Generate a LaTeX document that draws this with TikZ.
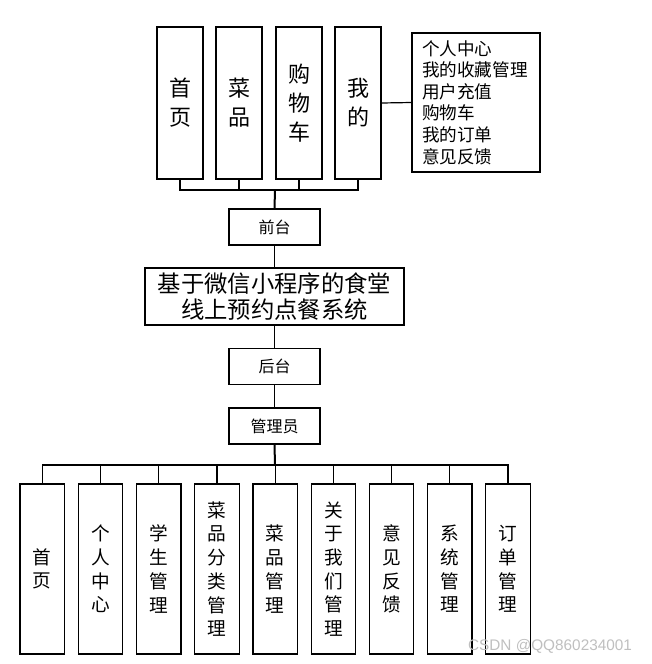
\documentclass[tikz,border=0pt]{standalone}
\usepackage{fontspec}
\setmainfont{Noto Sans CJK SC}
\newfontfamily\wmfont{Liberation Sans}
\begin{document}
\begin{tikzpicture}[x=0.75pt,y=-0.75pt,
  box/.style={draw,line width=0.9pt,inner sep=0pt,align=center},
  topbox/.style={box,minimum width=34.5pt,minimum height=114pt,font=\fontsize{16.5}{21.75}\selectfont},
  botbox/.style={box,minimum width=33.4pt,minimum height=127.5pt,font=\fontsize{14}{17.8}\selectfont},
  midbox/.style={box,minimum width=68.25pt,minimum height=27pt,font=\fontsize{12}{14}\selectfont},
  conn/.style={line width=0.9pt},
  trunk/.style={line width=1.5pt}]
\useasboundingbox (0,0) rectangle (651,664);
% top row
\node[topbox] (t1) at (180,103) {首\\页};
\node[topbox] (t2) at (239,103) {菜\\品};
\node[topbox] (t3) at (299,103) {购\\物\\车};
\node[topbox] (t4) at (358,103) {我\\的};
\node[draw,line width=0.9pt,minimum width=96pt,minimum height=104.25pt,text width=81pt,inner xsep=7.5pt,align=left,font=\fontsize{13.2}{16.2}\selectfont] (rb) at (476,102.5) {个人中心\\我的收藏管理\\用户充值\\购物车\\我的订单\\意见反馈};
% middle
\node[midbox] (qt) at (274.5,227) {前台};
\node[box,minimum width=194.25pt,minimum height=42.75pt,font=\fontsize{17.5}{20}\selectfont] (title) at (274.5,296.5) {基于微信小程序的食堂\\线上预约点餐系统};
\node[midbox] (ht) at (274.5,366.5) {后台};
\node[midbox] (gly) at (274.5,426) {管理员};
% bottom row
\node[botbox] (b1) at (42.3,569) {首\\页};
\node[botbox] (b2) at (100.5,569) {个\\人\\中\\心};
\node[botbox] (b3) at (158.8,569) {学\\生\\管\\理};
\node[botbox] (b4) at (217,569) {菜\\品\\分\\类\\管\\理};
\node[botbox] (b5) at (275.2,569) {菜\\品\\管\\理};
\node[botbox] (b6) at (333.4,569) {关\\于\\我\\们\\管\\理};
\node[botbox] (b7) at (391.6,569) {意\\见\\反\\馈};
\node[botbox] (b8) at (449.8,569) {系\\统\\管\\理};
\node[botbox] (b9) at (508,569) {订\\单\\管\\理};
% connectors
\coordinate (tb) at (275,190);
\coordinate (bb) at (275,465);
\foreach \n in {t1,t2,t3,t4} \draw[conn] (\n.south) |- (tb);
\draw[trunk] (tb) -- (qt.north);
\draw[conn] (t4.east) -- (rb.west);
\draw[conn] (qt.south) -- (title.north);
\draw[conn] (title.south) -- (ht.north);
\draw[conn] (ht.south) -- (gly.north);
\draw[trunk] (gly.south) -- (bb);
\foreach \n in {b1,b2,b3,b4,b5,b6,b7,b8,b9} \draw[conn] (\n.north) |- (bb);
\draw[trunk] (b1.north |- bb) -- (b9.north |- bb);
% watermark
\node[text=black!25,font=\wmfont\fontsize{11.5}{13}\selectfont,inner sep=0pt] (wm) at (550,646) {CSDN @QQ860234001};
\end{tikzpicture}
\end{document}
